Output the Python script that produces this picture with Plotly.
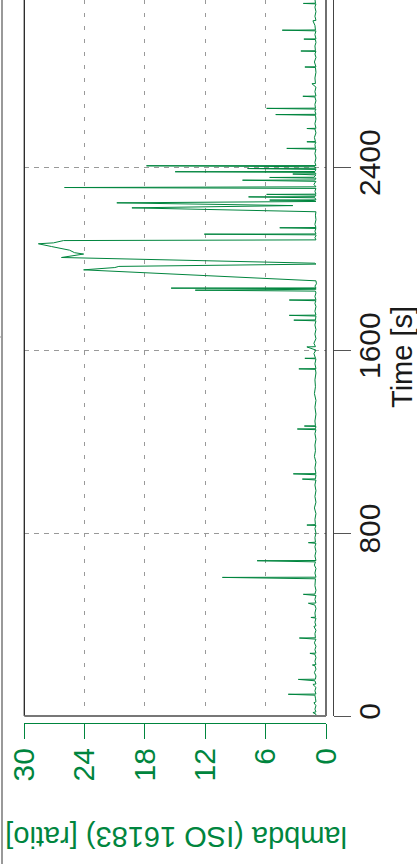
import plotly.graph_objects as go

# lambda trace (time in s, lambda ratio)
time_s = [
    0, 8, 15, 18, 30, 45, 58, 62, 78, 91, 95, 96, 110, 125, 138, 140, 154, 160, 161, 175,
    190, 205, 220, 223, 225, 240, 255, 270, 274, 275, 290, 305, 320, 336, 341, 342, 360, 375, 392, 394,
    410, 428, 431, 432, 450, 470, 485, 493, 494, 510, 527, 532, 533, 550, 570, 600, 606, 607, 625, 645,
    660, 674, 679, 680, 700, 720, 740, 755, 758, 760, 780, 800, 820, 833, 835, 837, 860, 885, 910, 935,
    960, 985, 1010, 1032, 1036, 1037, 1055, 1059, 1060, 1085, 1110, 1135, 1160, 1185, 1210, 1235, 1252, 1255, 1256, 1266,
    1268, 1269, 1290, 1320, 1350, 1380, 1410, 1440, 1470, 1500, 1516, 1518, 1519, 1540, 1562, 1564, 1565, 1585, 1600, 1614,
    1615, 1630, 1650, 1670, 1690, 1710, 1728, 1731, 1732, 1749, 1752, 1753, 1770, 1790, 1805, 1816, 1819, 1820, 1835, 1850,
    1858, 1862, 1863, 1866, 1869, 1871, 1872, 1880, 1890, 1903, 1951, 1961, 1966, 1976, 1980, 2005, 2020, 2026, 2037, 2053,
    2065, 2069, 2079, 2082, 2092, 2100, 2104, 2107, 2108, 2120, 2132, 2135, 2136, 2150, 2170, 2190, 2205, 2222, 2232, 2244,
    2250, 2254, 2256, 2257, 2266, 2270, 2271, 2278, 2281, 2282, 2295, 2307, 2311, 2314, 2325, 2338, 2343, 2344, 2352, 2355,
    2356, 2366, 2370, 2371, 2377, 2380, 2381, 2390, 2394, 2395, 2402, 2406, 2407, 2420, 2440, 2460, 2479, 2482, 2483, 2500,
    2509, 2511, 2512, 2530, 2550, 2567, 2569, 2570, 2590, 2610, 2627, 2630, 2631, 2645, 2654, 2657, 2658, 2675, 2690, 2707,
    2710, 2711, 2730, 2750, 2765, 2766, 2790, 2815, 2836, 2838, 2839, 2860, 2880, 2895, 2906, 2908, 2909, 2930, 2945, 2958,
    2960, 2961, 2980, 2996, 2999, 3000, 3020, 3040, 3042, 3060, 3080, 3100, 3114, 3116, 3117, 3135,
]
lambda_ratio = [
    1.05, 1.0, 1.3, 1.0, 1.1, 1.0, 1.2, 1.0, 1.05, 1.1, 3.75, 1.0, 1.1, 1.0, 1.3, 1.0, 1.1, 2.75, 1.05, 1.0,
    1.15, 1.0, 1.1, 1.35, 1.0, 1.1, 1.0, 1.1, 1.6, 1.0, 1.1, 1.0, 1.15, 1.0, 2.65, 1.05, 1.1, 1.0, 1.2, 1.0,
    1.1, 1.0, 1.5, 1.05, 1.1, 1.0, 1.1, 1.75, 1.0, 1.1, 1.0, 2.25, 1.1, 1.0, 1.1, 1.05, 10.3, 1.0, 1.1, 1.0,
    1.15, 1.05, 6.85, 1.0, 1.1, 1.0, 1.1, 1.0, 1.75, 1.05, 1.1, 1.0, 1.1, 1.0, 1.9, 1.05, 1.1, 1.0, 1.15, 1.0,
    1.1, 1.0, 1.1, 1.0, 2.35, 1.05, 1.0, 3.25, 1.0, 1.1, 1.0, 1.15, 1.05, 1.1, 1.0, 1.1, 1.0, 2.85, 1.05, 1.0,
    2.15, 1.05, 1.1, 1.0, 1.1, 1.0, 1.15, 1.05, 1.1, 1.0, 1.05, 2.7, 1.0, 1.1, 1.0, 2.1, 1.05, 1.2, 1.0, 1.9,
    1.05, 1.2, 1.0, 1.1, 1.0, 1.1, 1.0, 3.2, 1.05, 1.0, 3.65, 1.0, 1.1, 1.0, 1.1, 1.0, 3.65, 1.0, 1.1, 1.0,
    1.05, 13.0, 2.3, 1.0, 1.0, 15.4, 1.0, 1.1, 0.95, 1.0, 24.1, 21.0, 20.6, 1.0, 1.1, 26.3, 24.1, 25.0, 25.5, 27.3,
    28.6, 27.1, 26.1, 1.0, 1.1, 1.0, 1.0, 12.1, 1.0, 1.1, 1.0, 4.6, 1.0, 1.1, 1.0, 1.05, 1.0, 19.3, 3.3, 20.8,
    1.0, 1.2, 5.6, 1.0, 1.1, 7.7, 1.1, 1.0, 5.9, 1.0, 1.1, 1.0, 26.0, 1.0, 1.2, 1.0, 8.3, 1.1, 1.0, 5.6,
    1.2, 1.0, 3.3, 1.0, 1.1, 15.0, 1.1, 1.0, 7.8, 1.0, 1.1, 17.85, 1.0, 1.1, 1.0, 1.1, 1.0, 3.9, 1.05, 1.1,
    1.0, 1.9, 1.05, 1.15, 1.0, 1.1, 1.9, 1.0, 1.1, 1.0, 1.05, 5.0, 1.0, 1.1, 1.0, 5.9, 1.05, 1.1, 1.0, 1.1,
    2.3, 1.0, 1.1, 1.0, 1.4, 1.05, 1.1, 1.0, 1.05, 2.1, 1.0, 1.15, 1.0, 1.1, 1.0, 2.5, 1.05, 1.1, 1.0, 1.05,
    2.2, 1.0, 1.1, 1.0, 4.35, 1.05, 1.1, 1.3, 1.0, 1.1, 1.0, 1.1, 1.0, 2.25, 1.05, 1.1,
]

lambda_ticks = [0, 6, 12, 18, 24, 30]
time_ticks = [0, 800, 1600, 2400]

GREEN = '#00853e'
FONT = 'Liberation Sans, Arial, sans-serif'
W, H = 417, 864

def px(x):
    return x / W

def py(y):
    return 1 - y / H

x0, x1 = px(24.3), px(326)
ybot = py(716)

fig = go.Figure()
fig.add_trace(go.Scatter(x=lambda_ratio, y=time_s, mode='lines',
                         line=dict(color=GREEN, width=1), hoverinfo='skip'))

fig.update_layout(
    width=W, height=H,
    margin=dict(l=0, r=0, t=0, b=0),
    paper_bgcolor='white', plot_bgcolor='white',
    showlegend=False,
    font=dict(family=FONT),
    xaxis=dict(
        range=[30, 0], domain=[x0, x1], anchor='free', position=py(723),
        tickvals=lambda_ticks, ticks='outside', ticklen=15, tickwidth=1.3, tickcolor=GREEN,
        showline=True, linecolor=GREEN, linewidth=1.3,
        tickangle=-90, tickfont=dict(size=30, color=GREEN, family=FONT),
        ticklabelstandoff=-3,
        showgrid=True, gridcolor='#999999', griddash='4px,9px', gridwidth=1,
        zeroline=False, automargin=False,
    ),
    yaxis=dict(
        range=[0, 3131], domain=[ybot, 1], anchor='free', side='right', position=px(333),
        tickvals=time_ticks, ticks='outside', ticklen=17, tickwidth=1.3, tickcolor='#555555',
        showline=True, linecolor='#444444', linewidth=1.3,
        tickangle=-90, tickfont=dict(size=30, color='#1a1a1a', family=FONT),
        ticklabelstandoff=-7,
        showgrid=True, gridcolor='#999999', griddash='5px,5px', gridwidth=1,
        zeroline=False, automargin=False,
    ),
)

# plot frame (no top edge visible)
frame = [
    dict(x0=x0, x1=x0, y0=ybot, y1=1.05, color='#222222', width=1.3),
    dict(x0=x1, x1=x1, y0=ybot, y1=1.05, color='#222222', width=1.3),
    dict(x0=x0, x1=x1, y0=ybot, y1=ybot, color='#777777', width=2),
    dict(x0=px(2), x1=px(2), y0=0, y1=1, color='#999999', width=2),
    dict(x0=0, x1=px(3), y0=py(337), y1=py(337), color='#999999', width=1),
]
for f in frame:
    fig.add_shape(type='line', xref='paper', yref='paper', x0=f['x0'], x1=f['x1'],
                  y0=f['y0'], y1=f['y1'], line=dict(color=f['color'], width=f['width']),
                  layer='above')

fig.add_annotation(text='lambda (ISO 16183) [ratio]', textangle=180, x=px(176), y=py(837),
                   xref='paper', yref='paper', showarrow=False, xanchor='center', yanchor='middle',
                   font=dict(size=29, color=GREEN, family=FONT))
fig.add_annotation(text='Time [s]', textangle=-90, x=px(402), y=py(357),
                   xref='paper', yref='paper', showarrow=False, xanchor='center', yanchor='middle',
                   font=dict(size=29, color='#1a1a1a', family=FONT))

fig.write_html("out.html", config={'displayModeBar': False},
               post_script="document.body.style.margin='0';")
